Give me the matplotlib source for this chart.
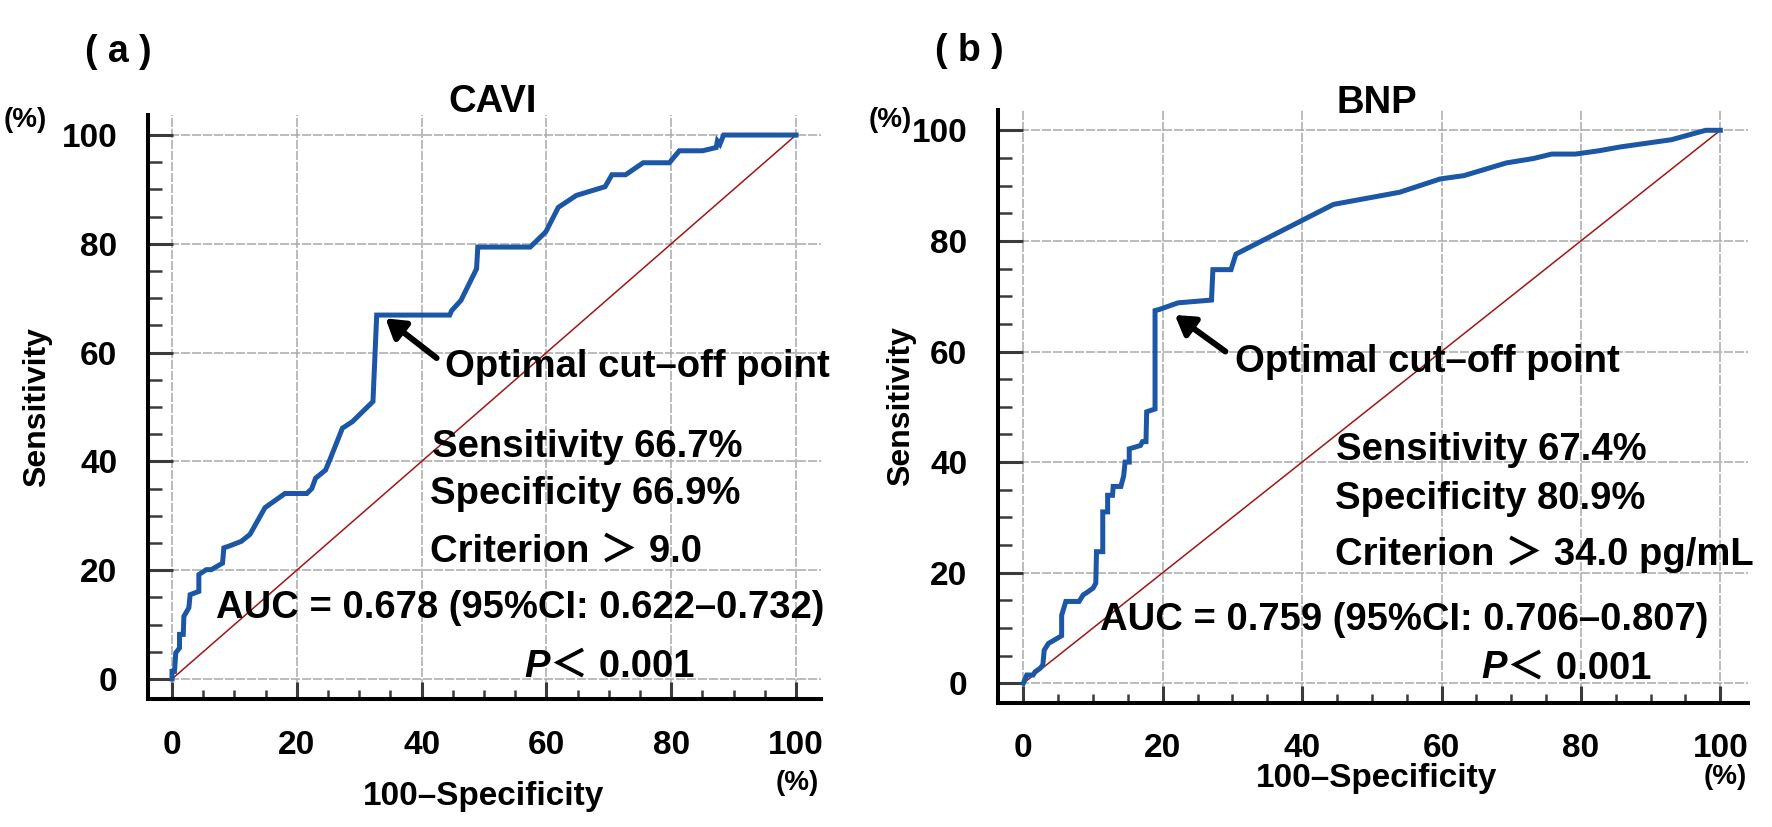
import matplotlib
matplotlib.use('Agg')
import matplotlib.pyplot as plt
from matplotlib.ticker import FixedLocator, MultipleLocator

plt.rcParams['font.family'] = ['Liberation Sans', 'Noto Sans CJK JP', 'DejaVu Sans']
plt.rcParams['font.weight'] = 'bold'

# ---------------- data ----------------
cavi_x = [0, 0, 0.4, 0.6, 1.2, 1.2, 1.8, 1.9, 2.7, 2.9, 4.3, 4.3, 5.5, 6.3, 8.1, 8.3,
          9.3, 11.1, 12.5, 14.9, 18.1, 21.6, 22.4, 23.0, 24.6, 25.5, 27.3, 28.9, 32.2,
          32.8, 44.5, 44.8, 46.3, 48.8, 49.0, 57.4, 59.9, 61.9, 64.8, 69.4, 70.5, 72.7,
          75.5, 79.7, 81.3, 85.0, 87.2, 87.4, 87.8, 88.4, 100]
cavi_y = [0, 1.4, 1.4, 4.8, 5.7, 8.2, 8.2, 11.5, 13.1, 15.5, 16.1, 19.2, 20.1, 20.1,
          21.3, 24.1, 24.5, 25.3, 26.6, 31.5, 34.1, 34.1, 35.0, 36.9, 38.4, 40.9, 46.1,
          47.3, 51.0, 66.9, 66.9, 67.7, 69.6, 75.4, 79.4, 79.4, 82.2, 86.7, 88.9, 90.5,
          92.7, 92.7, 94.9, 94.9, 97.1, 97.1, 97.7, 98.9, 98.3, 100, 100]

bnp_x = [0, 0.5, 1.4, 1.7, 2.4, 2.8, 3.0, 3.6, 5.5, 5.5, 6.1, 8.0, 8.6, 9.1, 10.0,
         10.4, 10.5, 11.4, 11.4, 12.1, 12.1, 12.8, 12.9, 14.0, 14.4, 14.6, 15.2, 15.2,
         16.8, 17.1, 17.6, 17.7, 18.9, 18.9, 19.5, 22.2, 27.0, 27.2, 29.8, 30.5, 44.5,
         54.0, 59.8, 63.2, 69.3, 73.2, 75.8, 79.2, 82.6, 85.7, 93.0, 97.9, 100]
bnp_y = [0, 1.5, 1.5, 2.1, 2.7, 3.3, 6.0, 7.2, 8.6, 12.3, 14.8, 14.8, 16.0, 16.4, 17.2,
         18.1, 23.8, 23.8, 31.0, 31.0, 34.0, 34.0, 35.6, 35.6, 37.5, 40.0, 40.0, 42.4,
         43.0, 43.7, 43.7, 49.1, 49.6, 67.4, 67.6, 68.8, 69.3, 74.8, 74.8, 77.6, 86.6,
         88.8, 91.2, 91.8, 94.1, 94.9, 95.7, 95.7, 96.3, 97.0, 98.3, 100, 100]

ref_line = [0, 100]
ticks = [0, 20, 40, 60, 80, 100]
tick_labels = ['0', '20', '40', '60', '80', '100']

titles = ['CAVI', 'BNP']
panel_labels = ['( a )', '( b )']
stats_cavi = ['Sensitivity 66.7%', 'Specificity 66.9%', 'Criterion ＞ 9.0']
stats_bnp = ['Sensitivity 67.4%', 'Specificity 80.9%', 'Criterion ＞ 34.0 pg/mL']
auc_cavi = 'AUC = 0.678 (95%CI: 0.622–0.732)'
auc_bnp = 'AUC = 0.759 (95%CI: 0.706–0.807)'
p_text = '＜ 0.001'
cut_text = 'Optimal cut–off point'
xlabel = '100–Specificity'
ylabel = 'Sensitivity'
unit = '(%)'

# ---------------- figure ----------------
W, H = 1772, 827
fig = plt.figure(figsize=(W / 100, H / 100), dpi=100)


def fx(px):
    return px / W


def fy(py):
    return 1 - py / H


BLUE = '#1b57a5'
RED = '#a31515'
TXT = 27.5


def setup(ax, xlim, ylim):
    ax.set_xlim(*xlim)
    ax.set_ylim(*ylim)
    for s in ['top', 'right']:
        ax.spines[s].set_visible(False)
    for s in ['left', 'bottom']:
        ax.spines[s].set_linewidth(2.9)
        ax.spines[s].set_color('black')
    ax.xaxis.set_major_locator(FixedLocator(ticks))
    ax.yaxis.set_major_locator(FixedLocator(ticks))
    ax.set_xticklabels(tick_labels)
    ax.set_yticklabels(tick_labels)
    ax.xaxis.set_minor_locator(MultipleLocator(5))
    ax.yaxis.set_minor_locator(MultipleLocator(5))
    ax.tick_params(axis='y', which='major', direction='in', length=18, width=2.2,
                   color='#3a3a3a', pad=22, labelsize=24)
    ax.tick_params(axis='y', which='minor', direction='in', length=10, width=1.8,
                   color='#3a3a3a')
    ax.tick_params(axis='x', which='major', direction='in', length=12.5, width=2.2,
                   color='#3a3a3a', pad=22, labelsize=24)
    ax.tick_params(axis='x', which='minor', direction='in', length=6.5, width=1.8,
                   color='#3a3a3a')
    ax.grid(True, which='major', color='#a9a9a9', lw=1.1, ls=(0, (6, 1.2)))
    ax.set_axisbelow(True)


# left panel
axL = fig.add_axes([fx(148), fy(699), fx(821) - fx(148), fy(115) - fy(699)])
setup(axL, (-3.85, 104.0), (-3.68, 103.68))
axL.plot(ref_line, ref_line, color=RED, lw=1.1, zorder=2)
axL.plot(cavi_x, cavi_y, color=BLUE, lw=3.6, zorder=3, solid_joinstyle='miter')

# right panel
axR = fig.add_axes([fx(998), fy(702.5), fx(1748) - fx(998), fy(109.5) - fy(702.5)])
setup(axR, (-3.63, 103.97), (-3.47, 103.76))
axR.plot(ref_line, ref_line, color=RED, lw=1.1, zorder=2)
axR.plot(bnp_x, bnp_y, color=BLUE, lw=3.6, zorder=3, solid_joinstyle='miter')


def annotate_panel(ax, tip, tail, cut_pos, stats, stats_pos, auc, auc_pos, p_pos):
    ax.annotate('', xy=tip, xytext=tail,
                arrowprops=dict(arrowstyle='-|>,head_length=0.45,head_width=0.28',
                                lw=4.3, color='black', shrinkA=0, shrinkB=0,
                                mutation_scale=25), zorder=5)
    ax.text(cut_pos[0], cut_pos[1], cut_text, fontsize=TXT, ha='left',
            va='baseline', zorder=6, clip_on=False)
    for s, (x, y) in zip(stats, stats_pos):
        ax.text(x, y, s, fontsize=TXT, ha='left', va='baseline', zorder=6,
                clip_on=False)
    ax.text(auc_pos[0], auc_pos[1], auc, fontsize=TXT, ha='left', va='baseline',
            zorder=6, clip_on=False)
    ax.text(p_pos[0], p_pos[1], 'P', fontsize=TXT, style='italic', ha='right',
            va='baseline', zorder=6, clip_on=False)
    ax.text(p_pos[0], p_pos[1], p_text, fontsize=TXT, ha='left', va='baseline',
            zorder=6, clip_on=False)


annotate_panel(axL, (34.2, 66.3), (42.4, 59.0), (43.75, 55.6), stats_cavi,
               [(41.7, 40.9), (41.4, 32.2), (41.4, 21.6)], auc_cavi, (7.1, 11.2),
               (60.6, 0.4))
annotate_panel(axR, (21.75, 66.6), (29.0, 60.0), (30.3, 56.3), stats_bnp,
               [(44.9, 40.4), (44.7, 31.6), (44.7, 21.4)], auc_bnp, (11.0, 9.6),
               (69.4, 0.9))

# titles and labels (figure coordinates from pixel positions)
fig.text(fx(493), fy(111.7), titles[0], fontsize=TXT, ha='center', va='baseline')
fig.text(fx(1377), fy(113.3), titles[1], fontsize=TXT, ha='center', va='baseline')
fig.text(fx(118.5), fy(52), panel_labels[0], fontsize=27, ha='center', va='center')
fig.text(fx(969.5), fy(51), panel_labels[1], fontsize=27, ha='center', va='center')

fig.text(fx(25), fy(120), unit, fontsize=20, ha='center', va='center')
fig.text(fx(890), fy(120), unit, fontsize=20, ha='center', va='center')
fig.text(fx(797.5), fy(782.5), unit, fontsize=20, ha='center', va='center')
fig.text(fx(1725), fy(777.5), unit, fontsize=20, ha='center', va='center')

fig.text(fx(37), fy(407), ylabel, fontsize=23, rotation=90, ha='center', va='center')
fig.text(fx(901), fy(406), ylabel, fontsize=23, rotation=90, ha='center', va='center')
fig.text(fx(483.5), fy(805), xlabel, fontsize=24, ha='center', va='baseline')
fig.text(fx(1377), fy(787), xlabel, fontsize=24, ha='center', va='baseline')

fig.savefig('out.png', dpi=100)
